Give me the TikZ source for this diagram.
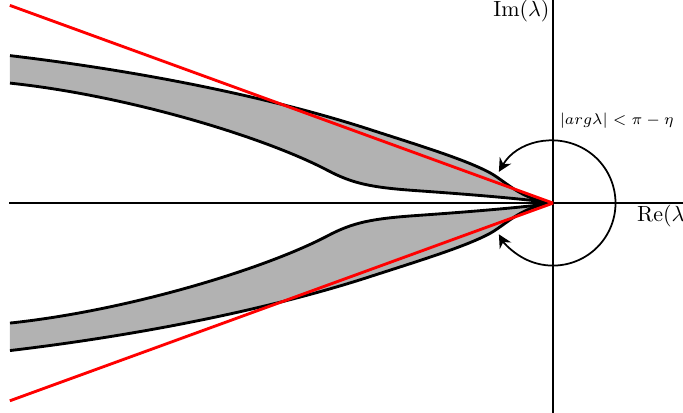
\documentclass[tikz,border=0pt]{standalone}
\usetikzlibrary{arrows.meta}
\begin{document}
\begin{tikzpicture}[
    band/.style={fill=gray!60},
    rim/.style={line width=1.3pt},
    ray/.style={red,line width=1.3pt}]
    \useasboundingbox (-8.85,-3.35) rectangle (2.08,3.25);
    % the two shaded bands, mirrored in the real axis
    \foreach \s in {1,-1} {
      \begin{scope}[yscale=\s]
        \fill[band] (-8.69,2.36) .. controls (-6.5,2.1) and (-4.5,1.68) .. (-3,1.2) .. controls (-2.2,0.94) and (-1.4,0.7) .. (-1,0.48)
          .. controls (-0.75,0.34) and (-0.5,0.05) .. (0,0)
          .. controls (-0.4,0.06) and (-1.2,0.13) .. (-2.2,0.2) .. controls (-2.9,0.25) and (-3.2,0.31) .. (-3.6,0.52)
          .. controls (-4.6,1.05) and (-6.8,1.72) .. (-8.69,1.92) -- cycle;
        \draw[rim] (-8.69,2.36) .. controls (-6.5,2.1) and (-4.5,1.68) .. (-3,1.2) .. controls (-2.2,0.94) and (-1.4,0.7) .. (-1,0.48)
          .. controls (-0.75,0.34) and (-0.5,0.05) .. (0,0);
        \draw[rim] (0,0) .. controls (-0.4,0.06) and (-1.2,0.13) .. (-2.2,0.2) .. controls (-2.9,0.25) and (-3.2,0.31) .. (-3.6,0.52)
          .. controls (-4.6,1.05) and (-6.8,1.72) .. (-8.69,1.92);
      \end{scope}
    }
    \draw[thick] (-8.7,0)--(2.2,0); \draw[thick] (0,-3.4)--(0,3.3);
    \draw[ray] (0,0)--(160:9.25) (0,0)--(200:9.25);
    \draw[thick,{Stealth[length=6pt,width=6pt]}-{Stealth[length=6pt,width=6pt]}] (150:1) arc (150:-150:1);
    \node[anchor=east,inner sep=0] (im) at (-0.05,3.07) {$\mathrm{Im}(\lambda)$};
    \node[anchor=west,inner sep=0] (re) at (1.34,-0.21) {$\mathrm{Re}(\lambda)$};
    \node[font=\scriptsize] (sector) at (1.02,1.32) {$|arg\lambda|<\pi-\eta$};
  \end{tikzpicture}
\end{document}
